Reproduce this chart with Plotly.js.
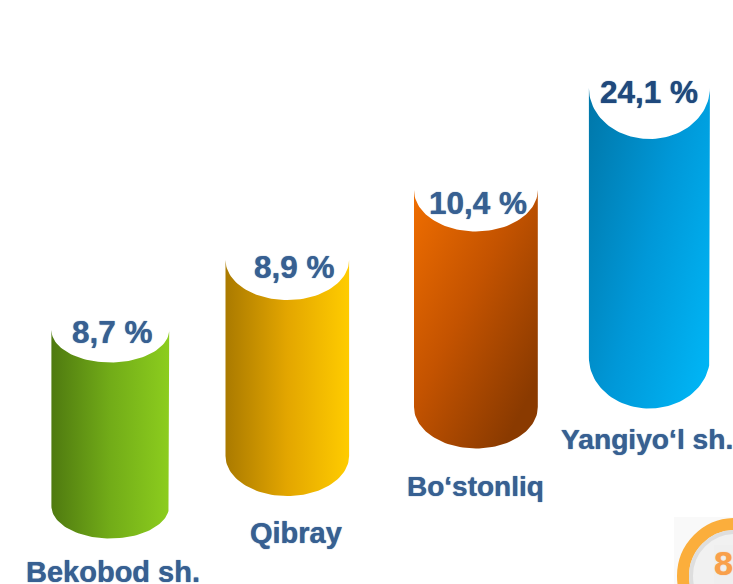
<!DOCTYPE html>
<html>
<head>
<meta charset="utf-8">
<script src="https://cdn.plot.ly/plotly-3.0.1.min.js"></script>
<style>html,body{margin:0;padding:0;background:#fff;overflow:hidden}#chart{width:733px;height:584px}</style>
</head>
<body>
<div id="chart"></div>
<script>
// Data
var categories = ['Bekobod sh.', 'Qibray', 'Bo‘stonliq', 'Yangiyo‘l sh.'];
var values = [8.7, 8.9, 10.4, 24.1];
var cylinderTop = [330, 260, 190, 88];
var cylinderBottom = [538.5, 496, 448.5, 408.5];
var seriesIds = ['green', 'yellow', 'orange', 'blue'];

// Layout and styling, in the pixel units of the axes
var centerX = [110.3, 287.3, 475.9, 649.4];
var halfWidth = [58.9, 61.8, 61.9, 60.5];
var capHeight = [32.5, 40, 41.5, 51];
var valueCenterX = [112, 294, 478, 649];
var valueBaseline = [343, 278, 214, 102.5];
var categoryCenterX = [112.5, 296, 475, 647];
var categoryBaseline = [582, 543, 496, 449];
var categorySize = [29, 29, 28, 28.2];
var valueColors = ['#376092', '#376092', '#376092', '#1F497D'];
var gradients = [
  [[0, '#4F7A10'], [0.5, '#72AC18'], [1, '#8CCD1E']],
  [[0, '#AA7A00'], [0.5, '#E3A600'], [1, '#FFCC00']],
  [[0, '#F06E00'], [0.5, '#C45300'], [1, '#8A3A00']],
  [[0, '#0076A8'], [0.5, '#0098D8'], [1, '#00B8F8']]
];
// Gradient vectors of the two diagonal cylinders (offset from top-left corner)
var diagonal = {orange: [175, 90], blue: [190, 50]};

function cylinderOutline(i) {
  var xs = [], ys = [], n = 60, k, t;
  var cx = centerX[i], hw = halfWidth[i], ry = capHeight[i];
  var top = cylinderTop[i], bottom = cylinderBottom[i] - ry;
  for (k = 0; k <= n; k++) {
    t = Math.PI - Math.PI * k / n;
    xs.push(cx + hw * Math.cos(t));
    ys.push(top + ry * Math.sin(t));
  }
  for (k = 0; k <= n; k++) {
    t = Math.PI * k / n;
    xs.push(cx + hw * Math.cos(t));
    ys.push(bottom + ry * Math.sin(t));
  }
  xs.push(xs[0]); ys.push(ys[0]);
  return {x: xs, y: ys};
}

var traces = categories.map(function (name, i) {
  var o = cylinderOutline(i);
  return {
    type: 'scatter', mode: 'lines', name: name, uid: seriesIds[i],
    x: o.x, y: o.y, fill: 'toself',
    line: {width: 0, color: 'rgba(0,0,0,0)'},
    fillcolor: gradients[i][1][1],
    fillgradient: {type: 'horizontal', colorscale: gradients[i]},
    hoverinfo: 'skip'
  };
});

function textAt(x, baseline, text, size, color) {
  return {
    x: x, y: baseline - size * 0.34, xref: 'x', yref: 'y', text: text,
    showarrow: false, xanchor: 'center', yanchor: 'middle',
    font: {
      family: '"Liberation Sans", Arial, sans-serif',
      size: size, color: color, weight: 700,
      shadow: '0 0 1px ' + color
    }
  };
}

var annotations = [];
values.forEach(function (v, i) {
  annotations.push(textAt(valueCenterX[i], valueBaseline[i], '<b>' + v.toFixed(1).replace('.', ',') + ' %</b>', 31.5, valueColors[i]));
});
categories.forEach(function (c, i) {
  annotations.push(textAt(categoryCenterX[i], categoryBaseline[i], '<b>' + c + '</b>', categorySize[i], '#376092'));
});
annotations.push(textAt(723.5, 575, '<b>8</b>', 34, '#F9A04B'));

var layout = {
  width: 733, height: 584, margin: {l: 0, r: 0, t: 0, b: 0},
  paper_bgcolor: '#fff', plot_bgcolor: '#fff', showlegend: false,
  xaxis: {range: [0, 733], visible: false, fixedrange: true},
  yaxis: {range: [584, 0], visible: false, fixedrange: true},
  annotations: annotations,
  shapes: [
    {type: 'rect', xref: 'x', yref: 'y', x0: 674, x1: 733, y0: 517, y1: 584, fillcolor: '#F9F9F9', line: {width: 0}, layer: 'below'},
    {type: 'circle', xref: 'x', yref: 'y', x0: 683, x1: 787, y0: 524, y1: 628, fillcolor: '#F1F1F1', line: {color: '#FBAE3C', width: 12}, layer: 'below'},
    {type: 'circle', xref: 'x', yref: 'y', x0: 691, x1: 779, y0: 532, y1: 620, fillcolor: 'rgba(0,0,0,0)', line: {color: '#DEDEDE', width: 4}, layer: 'below'},
    {type: 'rect', xref: 'x', yref: 'y', x0: 714, x1: 733, y0: 545, y1: 584, fillcolor: '#EFEFEF', line: {width: 0}, layer: 'below'}
  ]
};

var gd = document.getElementById('chart');
function applyDiagonals() {
  seriesIds.forEach(function (id, i) {
    if (!diagonal[id]) return;
    var g = gd.querySelector('linearGradient[id$="scatterfill-' + id + '"]');
    if (!g) return;
    var x0 = centerX[i] - halfWidth[i], y0 = cylinderTop[i];
    // Plotly writes the stops of this gradient in reverse order
    g.setAttribute('gradientUnits', 'userSpaceOnUse');
    g.setAttribute('x2', x0);
    g.setAttribute('y2', y0);
    g.setAttribute('x1', x0 + diagonal[id][0]);
    g.setAttribute('y1', y0 + diagonal[id][1]);
  });
}
Plotly.newPlot(gd, traces, layout, {displayModeBar: false, staticPlot: true}).then(function () {
  applyDiagonals();
  gd.on('plotly_afterplot', applyDiagonals);
});
</script>
</body>
</html>
